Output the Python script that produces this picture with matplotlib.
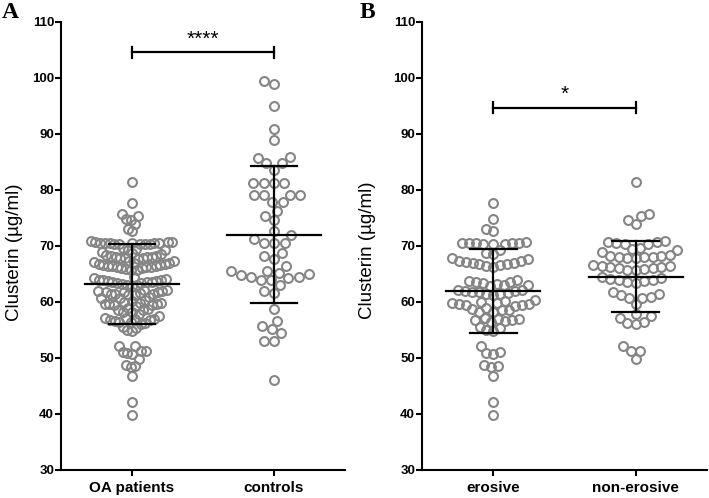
import matplotlib
matplotlib.use('Agg')
import matplotlib.pyplot as plt
import numpy as np

plt.rcParams['font.family'] = ['Liberation Sans', 'DejaVu Sans']

# values (µg/ml)
erosive = [77.7, 74.8, 73.0, 72.6,
           70.6, 70.5, 70.7, 70.4, 70.6, 70.5, 70.3, 70.6, 70.4,
           69.2, 68.8, 68.5,
           67.6, 67.3, 67.0, 66.8, 66.6, 66.4, 67.1, 66.9, 67.4, 66.7, 66.3, 67.8,
           63.9, 63.6, 63.4, 63.1, 62.9, 63.7, 63.3, 63.0, 63.5,
           62.2, 61.9, 61.7, 61.5, 61.3, 62.0, 61.6, 61.8, 62.1, 61.4,
           60.3, 60.0, 59.8, 59.6, 59.4, 60.1, 59.7, 59.9, 59.5, 59.2,
           58.9, 58.7, 58.5, 58.3, 58.6, 58.2,
           57.1, 56.9, 56.7, 56.5, 56.8, 57.0, 56.6,
           55.6, 55.3, 55.0, 54.8,
           52.1, 51.0, 50.9, 50.8, 48.7, 48.4, 48.6, 46.7, 42.1, 39.8]

non_erosive = [81.5, 75.7, 75.3, 74.6, 73.9,
               70.3, 70.9, 70.6, 70.8, 70.4, 70.7,
               69.0, 69.4, 69.7, 69.2,
               68.4, 68.0, 67.9, 68.2, 68.3, 68.1, 67.8, 68.0,
               66.6, 66.4, 66.0, 65.8, 66.2, 66.5, 65.7, 66.3, 66.1, 65.9,
               64.5, 64.1, 63.8, 63.5, 64.3, 63.9, 64.0, 63.4,
               61.8, 61.5, 61.2, 60.9, 60.7, 60.8, 59.6,
               57.8, 57.5, 57.2, 56.5, 56.2, 56.0,
               52.1, 51.3, 51.3, 49.8]

oa_patients = erosive + non_erosive

controls = [99.5, 98.9, 95.0, 90.9, 88.9, 85.9, 85.8, 84.8, 84.8, 83.6,
            81.3, 81.3, 81.3, 81.3, 79.1, 79.1, 79.1, 79.1, 77.8, 77.8,
            76.3, 75.4, 74.6, 72.7, 72.0, 71.2, 70.5, 70.5, 70.5,
            68.8, 68.2, 67.6, 66.4, 65.6, 65.5, 65.1, 64.5, 64.9, 63.9,
            63.9, 63.0, 64.2, 65.0, 64.4, 61.6, 62.0, 58.7, 56.6, 55.7,
            55.1, 54.4, 53.1, 53.1, 46.1]

# mean and SD as drawn
means_a = [63.2, 72.0]
sds_a = [7.1, 12.2]
means_b = [62.0, 64.5]
sds_b = [7.5, 6.35]

labels_a = ['OA patients', 'controls']
labels_b = ['erosive', 'non-erosive']
sig_y = [104.6, 94.7]
sig_text = ['****', '*']

GREY = '#858585'
PX_X = 142.0   # pixels per category unit
PX_Y = 5.6     # pixels per µg/ml
HALF_W = 43.0  # max half width of a column, pixels


def swarm_once(values, dx_px, dy_px=10.0):
    xs = np.zeros(len(values))
    placed = []
    for i in np.argsort(values, kind='stable'):
        y = values[i] * PX_Y
        near = [(px, py) for px, py in placed if abs(py - y) < dy_px]
        cands = [0.0]
        for px, py in near:
            off = dx_px * np.sqrt(1 - ((py - y) / dy_px) ** 2)
            cands += [px - off, px + off]
        cands.sort(key=lambda c: (round(abs(c), 6), c))
        x = cands[0]
        for c in cands:
            if all(((c - px) / dx_px) ** 2 + ((y - py) / dy_px) ** 2 >= 0.999 for px, py in near):
                x = c
                break
        placed.append((x, y))
        xs[i] = x
    return xs


def swarm(values, dx_px):
    # squeeze the spacing until the column fits, like the original software
    values = np.asarray(values, dtype=float)
    xs = swarm_once(values, dx_px)
    while np.abs(xs).max() > HALF_W and dx_px > 3:
        dx_px *= 0.95
        xs = swarm_once(values, dx_px)
    return xs / PX_X


def draw_panel(ax, groups, means, sds, labels, sy, stext):
    for k, vals in enumerate(groups):
        xs = swarm(vals, 11.0) + k
        ax.plot(xs, vals, 'o', ms=6.4, mfc='none', mec=GREY, mew=1.5, zorder=2)
        m, s = means[k], sds[k]
        ax.plot([k - 0.33, k + 0.33], [m, m], color='black', lw=1.6, zorder=3)
        ax.plot([k, k], [m - s, m + s], color='black', lw=1.6, zorder=3)
        for yy in (m - s, m + s):
            ax.plot([k - 0.165, k + 0.165], [yy, yy], color='black', lw=1.6, zorder=3)

    ax.plot([0, 1], [sy, sy], color='black', lw=1.6)
    for k in (0, 1):
        ax.plot([k, k], [sy - 1.0, sy + 1.0], color='black', lw=1.6)
    ax.text(0.5, sy + 0.6, stext, ha='center', va='bottom', fontsize=15)

    ax.set_xlim(-0.5, 1.5)
    ax.set_ylim(30, 110)
    ax.set_yticks(range(30, 111, 10))
    ax.set_xticks([0, 1])
    ax.set_xticklabels(labels, fontsize=11, fontweight='bold')
    for t in ax.get_yticklabels():
        t.set_fontweight('bold')
        t.set_fontsize(9.5)
    ax.tick_params(axis='y', direction='out', length=4, width=1.5, pad=1)
    ax.tick_params(axis='x', direction='out', length=4, width=1.5, pad=4)
    for side in ('top', 'right'):
        ax.spines[side].set_visible(False)
    for side in ('left', 'bottom'):
        ax.spines[side].set_linewidth(1.5)
    ax.set_ylabel('Clusterin (µg/ml)', fontsize=13.5)


fig = plt.figure(figsize=(7.09, 4.98), dpi=100)
ax_a = fig.add_axes([61 / 709, 28 / 498, 284 / 709, 448 / 498])
ax_b = fig.add_axes([422 / 709, 28 / 498, 285 / 709, 448 / 498])

draw_panel(ax_a, [oa_patients, controls], means_a, sds_a, labels_a, sig_y[0], sig_text[0])
draw_panel(ax_b, [erosive, non_erosive], means_b, sds_b, labels_b, sig_y[1], sig_text[1])
ax_a.yaxis.set_label_coords(-0.135, 0.485)
ax_b.yaxis.set_label_coords(-0.16, 0.49)

fig.text(2 / 709, 1 - 2 / 498, 'A', family='Liberation Serif', fontweight='bold',
         fontsize=17, ha='left', va='top')
fig.text(360 / 709, 1 - 2 / 498, 'B', family='Liberation Serif', fontweight='bold',
         fontsize=17, ha='left', va='top')

fig.savefig('out.png', dpi=100)
